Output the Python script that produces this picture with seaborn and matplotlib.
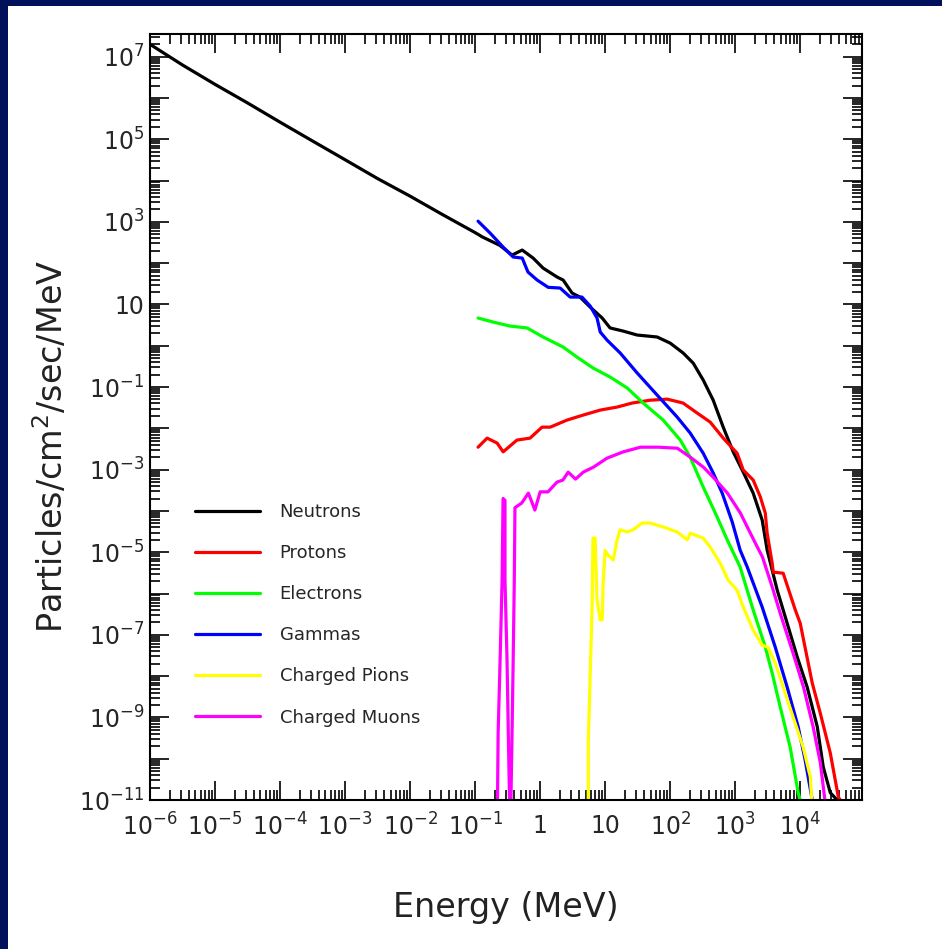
import numpy as np
import pandas as pd
import matplotlib
matplotlib.use("Agg")
import matplotlib.pyplot as plt
import matplotlib.ticker as mticker
from matplotlib.patches import Rectangle
import seaborn as sns

# energy in MeV, flux in particles/cm2/sec/MeV
neutron_e = [1.0e-6, 3.16e-6, 1.0e-5, 3.16e-5, 1.0e-4, 3.16e-4, 1.0e-3, 3.16e-3, 1.0e-2, 3.16e-2,
             0.1, 0.13, 0.24, 0.37, 0.53, 0.78, 1.11, 1.83, 2.26, 3.1,
             4.1, 5.9, 9.0, 11.9, 18.9, 31, 63, 100, 158, 226,
             322, 459, 654, 931, 1330, 1890, 2600, 3100, 4430, 6300,
             9000, 1.28e4, 1.83e4, 2.26e4, 2.9e4, 3.7e4, 4.1e4]
neutron_f = [2.0e7, 6.3e6, 2.14e6, 7.6e5, 2.6e5, 9.1e4, 3.2e4, 1.12e4, 4.2e3, 1.5e3,
             550, 430, 270, 157, 208, 133, 76, 46, 39, 18.9,
             15.1, 8.6, 4.7, 2.7, 2.27, 1.82, 1.63, 1.16, 0.67, 0.38,
             0.148, 0.048, 0.0107, 2.7e-3, 8.7e-4, 2.7e-4, 6.0e-5, 1.13e-5, 1.2e-6, 1.9e-7,
             2.9e-8, 5.4e-9, 5.9e-10, 6.3e-11, 1.5e-11, 1.0e-11, 1.0e-11]

proton_e = [0.111, 0.153, 0.218, 0.27, 0.44, 0.70, 1.07, 1.43, 2.6, 4.6,
            8.4, 15.3, 26, 49, 90, 158, 260, 412, 654, 1070,
            1330, 1890, 2430, 2900, 3100, 3700, 3850, 5470, 8400, 1.0e4,
            1.53e4, 2.03e4, 2.9e4, 3.85e4, 4.1e4]
proton_f = [3.5e-3, 5.8e-3, 4.4e-3, 2.7e-3, 5.2e-3, 5.8e-3, 0.0107, 0.0107, 0.0159, 0.021,
            0.0277, 0.0328, 0.041, 0.048, 0.051, 0.041, 0.0235, 0.0142, 5.8e-3, 2.5e-3,
            9.8e-4, 5.6e-4, 2.2e-4, 8.9e-5, 2.9e-5, 5.5e-6, 3.3e-6, 3.1e-6, 4.0e-7, 1.9e-7,
            6.8e-9, 1.28e-9, 1.37e-10, 1.2e-11, 1.0e-11]

electron_e = [0.111, 0.19, 0.345, 0.63, 1.11, 2.26, 3.7, 6.5, 11.9, 21.8,
              38.5, 78, 143, 203, 322, 528, 753, 1190, 1890, 2900,
              3700, 4920, 7000, 9300, 1.0e4]
electron_f = [4.7, 3.75, 3.0, 2.7, 1.63, 0.93, 0.53, 0.29, 0.175, 0.095,
              0.041, 0.0159, 5.2e-3, 2.0e-3, 3.8e-4, 7.1e-5, 2.0e-5, 4.4e-6, 4.0e-7, 5.1e-8,
              1.19e-8, 1.8e-9, 1.9e-10, 1.5e-11, 1.0e-11]

gamma_e = [0.111, 0.17, 0.27, 0.385, 0.53, 0.65, 0.90, 1.33, 2.03, 2.9,
           4.4, 5.9, 7.5, 8.4, 10.7, 17, 31, 63, 128, 203,
           322, 459, 631, 900, 1190, 1530, 2600, 4120, 6300, 9300,
           1.19e4, 1.53e4]
gamma_f = [1.04e3, 536, 245, 141, 133, 61, 39, 26, 25, 15.1,
           15.1, 9.1, 4.7, 2.15, 1.37, 0.67, 0.22, 0.064, 0.0188, 7.7e-3,
           2.5e-3, 8.3e-4, 2.7e-4, 5.4e-5, 1.13e-5, 4.4e-6, 4.7e-7, 5.1e-8, 5.4e-9, 5.9e-10,
           9.3e-11, 1.0e-11]

pion_e = [5.5, 5.5, 5.9, 6.3, 6.5, 7.0, 7.5, 8.4, 9.0, 9.3,
          10, 11.1, 13.3, 15.3, 17, 21.8, 27, 37, 49, 78,
          128, 183, 203, 322, 412, 587, 780, 1070, 1330, 1890,
          2600, 3200, 4120, 5470, 7800, 1.11e4, 1.43e4, 1.64e4]
pion_f = [1e-12, 2.4e-10, 1.2e-8, 4.7e-7, 2.2e-5, 2.2e-5, 6.9e-7, 2.3e-7, 2.3e-7, 1.8e-6,
          1.1e-5, 8.5e-6, 6.5e-6, 2.0e-5, 3.5e-5, 3.1e-5, 3.5e-5, 5.1e-5, 5.1e-5, 4.1e-5,
          3.1e-5, 2.0e-5, 2.9e-5, 2.2e-5, 1.34e-5, 5.5e-6, 2.1e-6, 1.2e-6, 4.7e-7, 1.3e-7,
          5.6e-8, 5.0e-8, 2.1e-8, 5.5e-9, 1.0e-9, 1.9e-10, 3.6e-11, 1.0e-12]

muon_e = [0.218, 0.226, 0.243, 0.26, 0.269, 0.288, 0.288, 0.309, 0.324, 0.347,
          0.37, 0.385, 0.40, 0.41, 0.52, 0.66, 0.83, 1.0, 1.32, 1.82,
          2.24, 2.7, 3.5, 4.6, 6.6, 10.7, 19, 35, 66, 129,
          204, 324, 457, 760, 1200, 2040, 2630, 3700, 4900, 7760,
          1.12e4, 1.58e4, 2.04e4, 2.63e4]
muon_f = [1e-12, 4.2e-10, 2.9e-8, 2.1e-6, 2.0e-4, 1.8e-4, 2.1e-6, 2.9e-8, 4.2e-10, 1e-12,
          4.2e-10, 2.5e-8, 1.8e-6, 1.2e-4, 1.55e-4, 2.7e-4, 1.05e-4, 2.9e-4, 2.9e-4, 5.0e-4,
          5.6e-4, 8.7e-4, 5.9e-4, 8.7e-4, 1.15e-3, 1.9e-3, 2.7e-3, 3.5e-3, 3.5e-3, 3.3e-3,
          2.0e-3, 1.15e-3, 6.6e-4, 2.7e-4, 8.9e-5, 1.66e-5, 7.6e-6, 1.45e-6, 3.4e-7, 3.6e-8,
          5.5e-9, 5.9e-10, 7.9e-11, 3e-12]

particles = ["Neutrons", "Protons", "Electrons", "Gammas", "Charged Pions", "Charged Muons"]
colors = ["#000000", "#ff0000", "#00ff00", "#0000ff", "#ffff00", "#ff00ff"]

series = {
    "Neutrons": (neutron_e, neutron_f),
    "Protons": (proton_e, proton_f),
    "Electrons": (electron_e, electron_f),
    "Gammas": (gamma_e, gamma_f),
    "Charged Pions": (pion_e, pion_f),
    "Charged Muons": (muon_e, muon_f),
}
frames = []
for name in particles:
    e, f = series[name]
    frames.append(pd.DataFrame({"Energy": e, "Flux": f, "Particle": name}))
df = pd.concat(frames, ignore_index=True)

sns.set_style("white")
plt.rcParams["font.family"] = ["DejaVu Sans"]

fig = plt.figure(figsize=(9.42, 9.49), dpi=100)
fig.patch.set_facecolor("#00105a")
# white slide area, navy strip only on the top and left edges
fig.patches.append(Rectangle((8 / 942, 0), 1, 1 - 6 / 949, transform=fig.transFigure,
                             facecolor="white", edgecolor="none", zorder=-10))
ax = fig.add_axes([150 / 942, 1 - 800 / 949, 712 / 942, 766 / 949])
ax.set_xscale("log")
ax.set_yscale("log")

sns.lineplot(data=df, x="Energy", y="Flux", hue="Particle", hue_order=particles,
             palette=colors, sort=False, estimator=None, linewidth=2.3, ax=ax)

ax.set_xlim(1e-6, 10 ** 4.95)
ax.set_ylim(1e-11, 10 ** 7.55)


def fmt_x(v, pos):
    e = int(round(np.log10(v)))
    if e == 0:
        return "1"
    if e == 1:
        return "10"
    return r"$10^{%d}$" % e


def fmt_y(v, pos):
    e = int(round(np.log10(v)))
    if e % 2 == 0:
        return ""
    if e == 1:
        return "10"
    return r"$10^{%d}$" % e


for axis in (ax.xaxis, ax.yaxis):
    axis.set_major_locator(mticker.LogLocator(base=10, numticks=100))
    axis.set_minor_locator(mticker.LogLocator(base=10, subs=np.arange(2, 10), numticks=100))
    axis.set_minor_formatter(mticker.NullFormatter())
ax.xaxis.set_major_formatter(mticker.FuncFormatter(fmt_x))
ax.yaxis.set_major_formatter(mticker.FuncFormatter(fmt_y))

ax.tick_params(which="both", direction="in", bottom=True, left=True, top=True, right=True,
               color="black", width=1.2)
ax.tick_params(which="major", length=14)
ax.tick_params(which="minor", length=7)
ax.tick_params(axis="x", which="major", labelsize=17, pad=10)
ax.tick_params(axis="y", which="major", labelsize=17, pad=4)
for s in ax.spines.values():
    s.set_visible(True)
    s.set_color("black")
    s.set_linewidth(1.5)

ax.set_xlabel("Energy (MeV)", fontsize=24, color="#222222", labelpad=36)
ax.set_ylabel("Particles/cm$^2$/sec/MeV", fontsize=24, color="#222222")
ax.yaxis.set_label_coords(-0.112, 0.461)

leg = ax.legend(loc="upper left", bbox_to_anchor=(0.04, 0.409), frameon=False,
                fontsize=13, handlelength=3.6, handletextpad=1.1, labelspacing=1.28)
for line in leg.get_lines():
    line.set_linewidth(2.3)

fig.savefig("out.png", dpi=100, facecolor=fig.get_facecolor())
